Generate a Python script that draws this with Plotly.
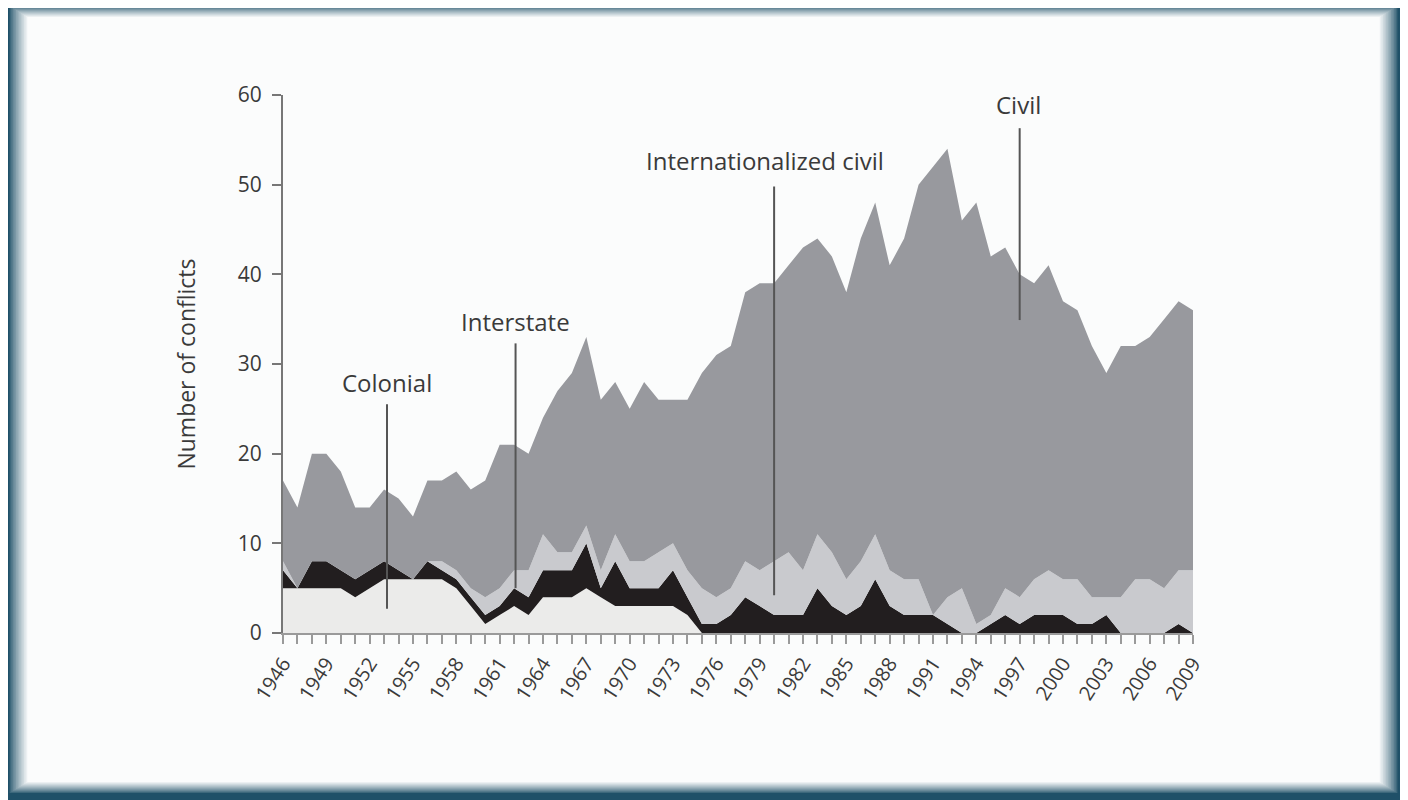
import plotly.graph_objects as go

years = list(range(1946, 2010))

colonial = [5, 5, 5, 5, 5, 4, 5, 6, 6, 6, 6, 6, 5, 3, 1, 2, 3, 2, 4, 4,
            4, 5, 4, 3, 3, 3, 3, 3, 2, 0, 0, 0, 0, 0, 0, 0, 0, 0, 0, 0,
            0, 0, 0, 0, 0, 0, 0, 0, 0, 0, 0, 0, 0, 0, 0, 0, 0, 0, 0, 0,
            0, 0, 0, 0]
interstate = [2, 0, 3, 3, 2, 2, 2, 2, 1, 0, 2, 1, 1, 1, 1, 1, 2, 2, 3, 3,
              3, 5, 1, 5, 2, 2, 2, 4, 2, 1, 1, 2, 4, 3, 2, 2, 2, 5, 3, 2,
              3, 6, 3, 2, 2, 2, 1, 0, 0, 1, 2, 1, 2, 2, 2, 1, 1, 2, 0, 0,
              0, 0, 1, 0]
intl_civil = [1, 0, 0, 0, 0, 0, 0, 0, 0, 0, 0, 1, 1, 1, 2, 2, 2, 3, 4, 2,
              2, 2, 2, 3, 3, 3, 4, 3, 3, 4, 3, 3, 4, 4, 6, 7, 5, 6, 6, 4,
              5, 5, 4, 4, 4, 0, 3, 5, 1, 1, 3, 3, 4, 5, 4, 5, 3, 2, 4, 6,
              6, 5, 6, 7]
total = [17, 14, 20, 20, 18, 14, 14, 16, 15, 13, 17, 17, 18, 16, 17, 21, 21, 20, 24, 27,
         29, 33, 26, 28, 25, 28, 26, 26, 26, 29, 31, 32, 38, 39, 39, 41, 43, 44, 42, 38,
         44, 48, 41, 44, 50, 52, 54, 46, 48, 42, 43, 40, 39, 41, 37, 36, 32, 29, 32, 32,
         33, 35, 37, 36]
civil = [t - a - b - c for t, a, b, c in zip(total, colonial, interstate, intl_civil)]

tick_years = list(range(1946, 2010, 3))

# label text, label position, line x, line bottom, line top
labels = [
    ("Colonial", 1953.2, 27.9, 1953.2, 2.7, 25.5),
    ("Interstate", 1962.1, 34.7, 1962.1, 5.0, 32.3),
    ("Internationalized civil", 1979.4, 52.7, 1980.0, 4.2, 49.8),
    ("Civil", 1996.9, 58.9, 1997.0, 34.9, 56.3),
]

series = [
    ("Colonial", colonial, "#ebebea"),
    ("Interstate", interstate, "#221e1f"),
    ("Internationalized civil", intl_civil, "#c9cace"),
    ("Civil", civil, "#98999e"),
]

FONT = "Open Sans"
TXT = "#3a3a3a"

fig = go.Figure()
for name, vals, col in series:
    fig.add_trace(go.Scatter(x=years, y=vals, name=name, mode="none",
                             stackgroup="one", fillcolor=col, line=dict(width=0)))

# page body adds an 8px offset, so margins are shifted to keep the plot in place
W, H = 1408, 800
L, T = 275, 87
pw, ph = 910, 538
R, B = W - L - pw, H - T - ph


def px(sx):
    return (sx - 8 - L) / pw


def py(sy):
    return (633 - sy) / ph


# frame: dark border fading into a white panel
dark = (31, 80, 104)
light = (251, 252, 252)
steps = 12
shapes = []
for i in range(steps + 1):
    f = (i / steps) ** 0.8
    c = tuple(round(d + (l - d) * f) for d, l in zip(dark, light))
    shapes.append(dict(type="rect", xref="paper", yref="paper", layer="below",
                       x0=px(8 + 1.6 * i), x1=px(W - 9 - 1.6 * i),
                       y0=py(5 + 1.0 * i), y1=py(H - 6 - 1.0 * i),
                       line=dict(width=0), fillcolor="rgb(%d,%d,%d)" % c))

for text, tx, ty, lx, y0, y1 in labels:
    shapes.append(dict(type="line", xref="x", yref="y", x0=lx, x1=lx, y0=y0, y1=y1,
                       line=dict(color="#555555", width=2)))
    fig.add_annotation(x=tx, y=ty, text=text, showarrow=False,
                       font=dict(size=24, color=TXT, family=FONT))

fig.update_layout(
    width=W, height=H,
    margin=dict(l=L, r=R, t=T, b=B),
    paper_bgcolor="rgb(31,80,104)",
    plot_bgcolor="rgba(0,0,0,0)",
    showlegend=False,
    shapes=shapes,
    font=dict(family=FONT, color=TXT),
    xaxis=dict(range=[1946, 2009], tickvals=tick_years, ticks="outside", ticklen=9,
               tickcolor="#9a9a9a", tickwidth=2, tickangle=-57,
               tickfont=dict(size=20, color=TXT, family=FONT),
               minor=dict(dtick=1, tick0=1946, ticks="outside", ticklen=9,
                          tickcolor="#9a9a9a", tickwidth=2),
               showgrid=False, zeroline=False, showline=True, linecolor="#9a9a9a",
               linewidth=2),
    yaxis=dict(range=[0, 60], dtick=10, ticks="outside", ticklen=9, tickcolor="#777777",
               tickwidth=2, tickfont=dict(size=21, color=TXT, family=FONT),
               ticklabelstandoff=6,
               showgrid=False, zeroline=False, showline=True, linecolor="#777777",
               linewidth=2, title=dict(text="Number of conflicts", standoff=36,
                                       font=dict(size=23, color=TXT, family=FONT))),
)

fig.write_html("out.html")
